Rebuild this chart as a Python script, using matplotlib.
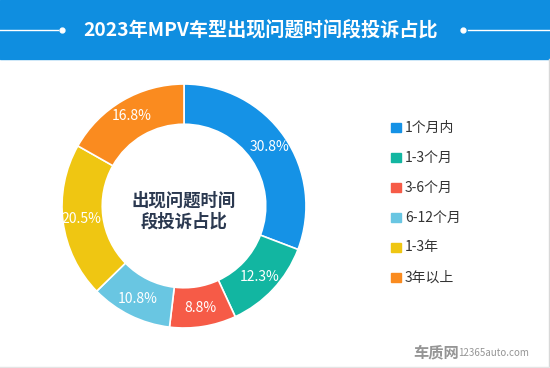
import matplotlib
matplotlib.use("Agg")
import matplotlib.pyplot as plt
from matplotlib.patches import Rectangle
from matplotlib.lines import Line2D

plt.rcParams['font.family'] = ['Noto Sans CJK SC', 'DejaVu Sans']

## data
title = "2023年MPV车型出现问题时间段投诉占比"
center_text = "出现问题时间\n段投诉占比"
categories = ["1个月内", "1-3个月", "3-6个月", "6-12个月", "1-3年", "3年以上"]
shares = [30.8, 12.3, 8.8, 10.8, 20.5, 16.8]
colors = ["#1592e6", "#12b6a1", "#f65b47", "#69c6e2", "#efc612", "#fa8b1f"]

W, H = 550, 368
fig = plt.figure(figsize=(W / 100, H / 100), dpi=100)
fig.patch.set_facecolor("white")

# header band
header_h = 59
fig.patches.append(Rectangle((0, 1 - header_h / H), 1, header_h / H,
                             transform=fig.transFigure, color="#0f8ee0", zorder=0))
fig.text(261 / W, 1 - 31 / H, title, color="white", fontsize=13.8, fontweight="bold",
         ha="center", va="center")
ty = 1 - 30 / H
fig.add_artist(Line2D([0, 58 / W], [ty, ty], color="white", lw=1, transform=fig.transFigure))
fig.add_artist(Line2D([62 / W], [ty], marker="o", ms=3.5, color="white", transform=fig.transFigure))
fig.add_artist(Line2D([463 / W], [ty], marker="o", ms=3.5, color="white", transform=fig.transFigure))
fig.add_artist(Line2D([468 / W, 1], [ty, ty], color="white", lw=1, transform=fig.transFigure))

# frame lines
fig.add_artist(Line2D([548.5 / W, 548.5 / W], [2 / H, 1 - header_h / H], color="#d8d8d8", lw=1,
                      transform=fig.transFigure))
fig.add_artist(Line2D([0, 548.5 / W], [1.5 / H, 1.5 / H], color="#e4e4e4", lw=1,
                      transform=fig.transFigure))

# donut
cx, cy, r = 184, 206, 122
ax = fig.add_axes([(cx - r) / W, (H - cy - r) / H, 2 * r / W, 2 * r / H])
wedges, texts, autotexts = ax.pie(
    shares, colors=colors, startangle=90, counterclock=False,
    autopct=lambda p: f"{p:.1f}%", pctdistance=0.85,
    wedgeprops=dict(width=0.33, edgecolor="white", linewidth=1.2),
    textprops=dict(color="white", fontsize=10))
ax.set_xlim(-1, 1)
ax.set_ylim(-1, 1)
ax.set_aspect("equal")
ax.axis("off")
ax.text(0, -0.04, center_text, ha="center", va="center", fontsize=12.5, fontweight="bold",
        color="#2b3950", linespacing=1.2)

# legend, drawn row by row (30 px apart)
for i, (lab, col) in enumerate(zip(categories, colors)):
    yc = 1 - (127.5 + 30 * i) / H
    fig.patches.append(Rectangle((391 / W, yc - 4.7 / H), 9.5 / W, 9.5 / H,
                                 transform=fig.transFigure, color=col))
    fig.text(405 / W, yc, lab, fontsize=10, color="#333333", ha="left", va="center")

# watermark
fig.text(413 / W, 1 - 352 / H, "车质网", fontsize=11, fontweight="bold", color="#959595",
         ha="left", va="center")
fig.text(458 / W, 1 - 353 / H, "12365auto.com", fontsize=7, color="#959595",
         ha="left", va="center")

fig.savefig("out.png", dpi=100)
